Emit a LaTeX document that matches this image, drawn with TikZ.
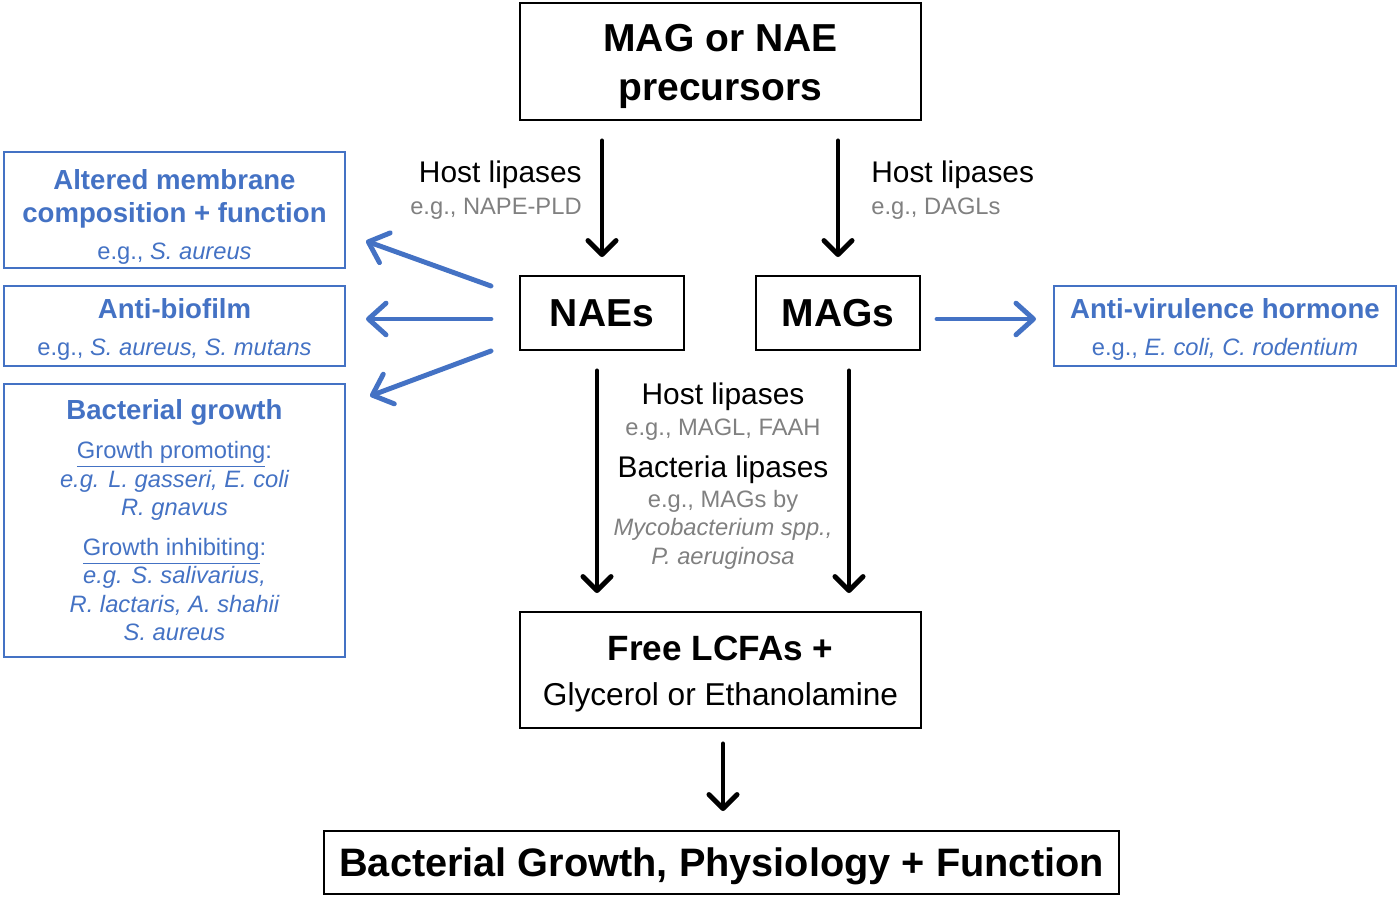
\documentclass[tikz,border=0pt]{standalone}
\usepackage{fontspec}
\setmainfont{Liberation Sans}
\usepackage{xcolor}
\usetikzlibrary{positioning,arrows.meta}
\definecolor{boxblue}{HTML}{4472C4}
\definecolor{lipgrey}{HTML}{808080}
\newcommand{\bigbold}{\fontsize{22.2}{27.8}\selectfont\bfseries}
\newcommand{\hostfont}{\fontsize{17}{19.3}\selectfont}
\newcommand{\egfont}{\fontsize{13.5}{16.2}\selectfont}
\newcommand{\bluehead}{\fontsize{15.7}{18.7}\selectfont\bfseries}
\newcommand{\lift}[1]{\rule{0pt}{#1}}

\begin{document}
\begin{tikzpicture}[x=0.02cm, y=-0.02cm,
    main box/.style={draw, line width=1.1pt, inner sep=0pt, align=center},
    blue box/.style={draw=boxblue, line width=1.1pt, text=boxblue, inner sep=0pt, align=center, minimum width=6.82cm},
    blk arrow/.style={line width=2.8pt, line cap=round, -{Straight Barb[length=8pt,width=16pt,round]}},
    blue arrow/.style={draw=boxblue, line width=2.8pt, line cap=round, -{Straight Barb[length=10pt,width=18pt,round]}}]
    \useasboundingbox (0,0) rectangle (1400,898);

    \node[main box, minimum width=8.02cm, minimum height=2.34cm, font=\bigbold] (prec) at (720.5,61.5) {\lift{21.5pt}MAG or NAE\\ precursors};
    \node[main box, minimum width=3.28cm, minimum height=1.48cm, font=\bigbold] (NAEs) at (602,313) {NAEs};
    \node[main box, minimum width=3.28cm, minimum height=1.48cm, font=\bigbold] (MAGs) at (838,313) {MAGs};
    \node[main box, minimum width=8.02cm, minimum height=2.32cm, font=\fontsize{20}{25.5}\selectfont] (lcfa) at (720.5,670) {\lift{18.9pt}\textbf{Free LCFAs +}\\ \fontsize{18}{25.5}\selectfont Glycerol or Ethanolamine};
    \node[main box, minimum width=15.9cm, minimum height=1.26cm, text depth=0pt, font=\fontsize{22.6}{27.8}\selectfont\bfseries] (outcome) at (721.5,862.5) {Bacterial Growth, Physiology + Function};

    % effects of NAEs and MAGs
    \node[blue box, minimum height=2.32cm, font=\bluehead] (membrane) at (174.5,210) {\lift{19.5pt}Altered membrane\\ composition + function\\[2.3pt] \egfont\mdseries e.g., \textit{S. aureus}};
    \node[blue box, minimum height=1.6cm, font=\fontsize{15.7}{21}\selectfont] (biofilm) at (174.5,326) {\lift{14.9pt}\textbf{Anti-biofilm}\\ \egfont e.g., \textit{S. aureus, S. mutans}};
    \node[blue box, minimum height=5.46cm, font=\egfont] (growth) at (174.5,520.5) {\bluehead Bacterial growth\\[5.9pt]
        \underline{Growth promoting}:\\ \itshape e.g. L. gasseri, E. coli\\ \itshape R. gnavus\\[6.5pt]
        \underline{Growth inhibiting}:\\ \itshape e.g. S. salivarius,\\ \itshape R. lactaris, A. shahii\\ \itshape S. aureus};
    \node[blue box, minimum width=6.84cm, minimum height=1.6cm, font=\fontsize{15.7}{21}\selectfont] (virulence) at (1225,326) {\lift{14.9pt}\textbf{Anti-virulence hormone}\\ \egfont e.g., \textit{E. coli, C. rodentium}};

    % lipase labels
    \node[anchor=east, align=right, inner sep=0pt, font=\hostfont] (naelip) at (582,190) {Host lipases\\[-1.1pt] \egfont\color{lipgrey} e.g., NAPE-PLD};
    \node[anchor=west, align=left, inner sep=0pt, font=\hostfont] (maglip) at (871,190) {Host lipases\\[-1.1pt] \egfont\color{lipgrey} e.g., DAGLs};
    \node[align=center, inner sep=0pt, font=\egfont] (hydro) at (723,476) {\hostfont Host lipases\\[1.4pt] \color{lipgrey} e.g., MAGL, FAAH\\[7.6pt]
        \hostfont Bacteria lipases\\[0.8pt] \color{lipgrey} e.g., MAGs by\\ \color{lipgrey}\itshape Mycobacterium spp.,\\ \color{lipgrey}\itshape P. aeruginosa};

    \draw[blk arrow, shorten <=0.4cm, shorten >=0.36cm] (prec.south -| NAEs.north) -- (NAEs.north);
    \draw[blk arrow, shorten <=0.4cm, shorten >=0.36cm] (prec.south -| MAGs.north) -- (MAGs.north);
    \draw[blk arrow, shorten <=0.4cm, shorten >=0.36cm] ([xshift=-0.1cm]NAEs.south) -- ([xshift=-0.1cm]NAEs.south |- lcfa.north);
    \draw[blk arrow, shorten <=0.4cm, shorten >=0.36cm] ([xshift=0.22cm]MAGs.south) -- ([xshift=0.22cm]MAGs.south |- lcfa.north);
    \draw[blk arrow, shorten <=0.3cm, shorten >=0.38cm] ([xshift=0.05cm]lcfa.south) -- ([xshift=0.05cm]lcfa.south |- outcome.north);

    \coordinate (nae1) at (491,286);
    \coordinate (nae2) at (491,319);
    \coordinate (nae3) at (491,351);
    \coordinate (mem) at (366,241);
    \coordinate (bio) at (366,319);
    \coordinate (gro) at (370,396);
    \coordinate (mag1) at (937,319);
    \coordinate (vir) at (1036,319);
    \draw[blue arrow] (nae1) -- (mem);
    \draw[blue arrow] (nae2) -- (bio);
    \draw[blue arrow] (nae3) -- (gro);
    \draw[blue arrow] (mag1) -- (vir);
\end{tikzpicture}
\end{document}
